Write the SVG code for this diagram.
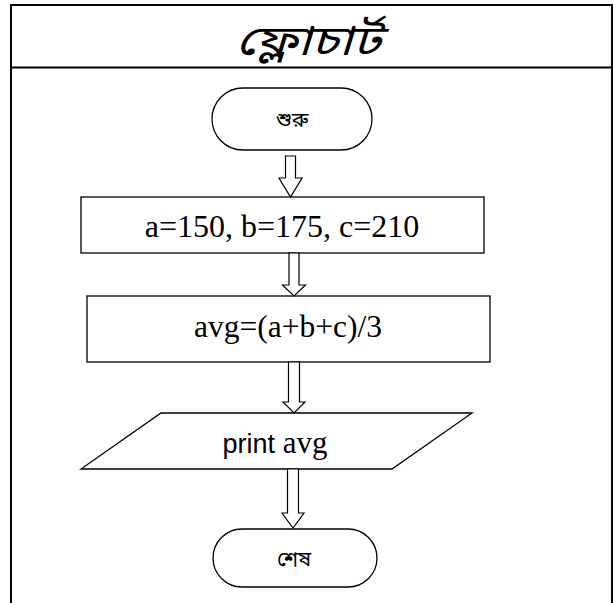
<svg xmlns="http://www.w3.org/2000/svg" width="613" height="603" viewBox="0 0 613 603">
  <style>
    .frame { fill: none; stroke: #000; stroke-width: 2; }
    .shape { fill: #fff; stroke: #000; stroke-width: 1.3; }
    .arrow { fill: #fff; stroke: #000; stroke-width: 1.2; stroke-linejoin: miter; }
    .bn { font-family: "Noto Sans Bengali", "Vrinda", "Noto Sans", sans-serif; fill: #000; text-anchor: middle; }
    .serif { font-family: "Liberation Serif", "Times New Roman", serif; fill: #000; text-anchor: middle; }
    .sans { font-family: "Liberation Sans", Arial, sans-serif; }
  </style>

  <!-- table frame with title row -->
  <g id="frame">
    <line class="frame" x1="11" y1="5" x2="613" y2="5"/>
    <line class="frame" x1="11" y1="4" x2="11" y2="603"/>
    <line class="frame" x1="612" y1="4" x2="612" y2="603"/>
    <line class="frame" x1="11" y1="67.5" x2="613" y2="67.5"/>
  </g>

  <g id="title">
    <text class="bn" x="308" y="55" font-size="42" font-style="italic" textLength="145" lengthAdjust="spacingAndGlyphs">ফ্লোচার্ট</text>
  </g>

  <!-- flowchart nodes -->
  <g id="start">
    <rect class="shape" x="212" y="88" width="160" height="62" rx="31" ry="31"/>
    <text class="bn" x="292" y="127" font-size="21">শুরু</text>
  </g>

  <g id="init">
    <rect class="shape" x="81" y="197" width="403" height="56"/>
    <text class="serif" x="282" y="237" font-size="32">a=150, b=175, c=210</text>
  </g>

  <g id="compute">
    <rect class="shape" x="87" y="296" width="403" height="66"/>
    <text class="serif" x="288" y="337" font-size="31.5">avg=(a+b+c)/3</text>
  </g>

  <g id="output">
    <polygon class="shape" points="161,413 472,413 392,469 81,469"/>
    <text x="275" y="453" text-anchor="middle" fill="#000"><tspan class="sans" font-size="27">print </tspan><tspan font-family="Liberation Serif, serif" font-size="31">avg</tspan></text>
  </g>

  <g id="end">
    <rect class="shape" x="213" y="529" width="164" height="58" rx="29" ry="29"/>
    <text class="bn" x="294" y="566" font-size="21">শেষ</text>
  </g>

  <!-- hollow block arrows between steps -->
  <g id="connectors">
    <path class="arrow" d="M285.5,156 H295.5 V178 H302 L290.5,197 L279,178 H285.5 Z"/>
    <path class="arrow" d="M289,253 H299 V285 H305.5 L294,296 L282.5,285 H289 Z"/>
    <path class="arrow" d="M288.5,362 H299.5 V402 H305 L294,413 L283,402 H288.5 Z"/>
    <path class="arrow" d="M287.5,469 H298.5 V513 H304 L293,528 L282,513 H287.5 Z"/>
  </g>
</svg>
